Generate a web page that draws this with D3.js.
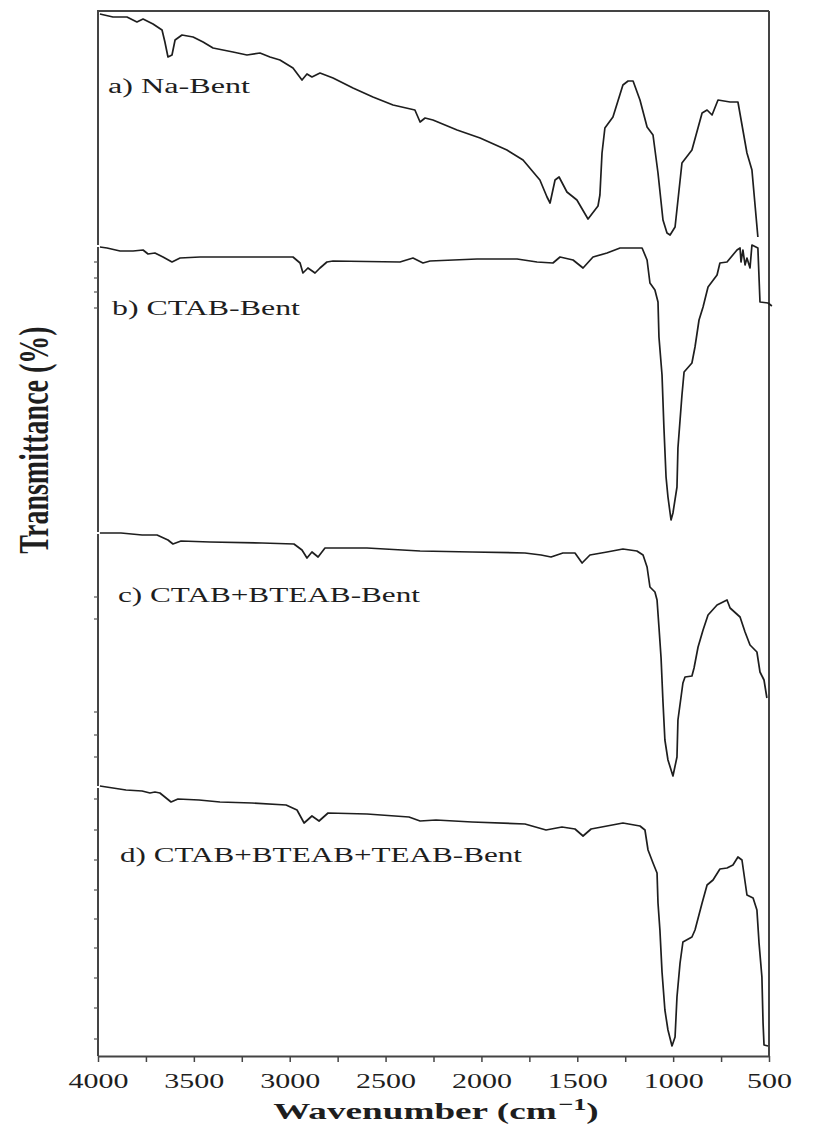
<!DOCTYPE html>
<html>
<head>
<meta charset="utf-8">
<script src="https://cdn.jsdelivr.net/npm/d3@7/dist/d3.min.js"></script>
<style>
  body { margin: 0; background: #fff; }
  svg { display: block; }
</style>
</head>
<body>
<svg id="chart"></svg>
<script>
// FTIR spectra, wavenumber (cm-1) vs transmittance (a.u., curves stacked with offsets)

const naBentWn = [3990, 3922, 3849, 3797, 3765, 3713, 3666, 3651, 3635, 3614, 3598, 3562, 3504, 3452, 3400,
  3296, 3223, 3155, 3103, 3051, 2983, 2936, 2910, 2884, 2842, 2774, 2670, 2566, 2461, 2347, 2320, 2294, 2253,
  2127, 2007, 1867, 1783, 1695, 1658, 1642, 1616, 1595, 1554, 1502, 1444, 1392, 1382, 1371, 1356, 1314, 1262,
  1235, 1209, 1173, 1136, 1105, 1079, 1053, 1032, 1016, 990, 954, 902, 849, 823, 797, 766, 703, 662, 615, 589, 558];
const naBentT = [208.4, 207.8, 207.8, 206.8, 207.4, 206.4, 205.2, 202.8, 199.8, 200.2, 203.2, 204.2, 203.8, 202.8, 201.6,
  200.8, 200.2, 200.6, 199.8, 199.2, 197.6, 195.2, 196.4, 195.8, 196.6, 195.6, 193.6, 191.8, 190.2, 189.2, 186.8, 187.6, 187.2,
  185.2, 183.6, 181.2, 179.2, 175.2, 171.8, 170.6, 175.2, 175.8, 172.8, 171.2, 167.4, 170, 172.2, 180.6, 185.6, 187.8, 194.2,
  195, 195, 191.2, 185.8, 184.2, 176.6, 167.2, 164.6, 164.2, 165.8, 178.6, 181.2, 188.6, 189.2, 188.2, 191.2, 190.8, 190.8, 180.6, 177.2, 163.8];

const ctabWn = [3990, 3953, 3885, 3817, 3765, 3739, 3703, 3661, 3614, 3572, 3468, 2983, 2946, 2931, 2905, 2868,
  2842, 2806, 2774, 2425, 2357, 2305, 2268, 2023, 1814, 1710, 1627, 1590, 1522, 1470, 1418, 1345, 1277, 1162,
  1136, 1121, 1095, 1079, 1074, 1058, 1048, 1037, 1027, 1011, 1001, 980, 975, 954, 943, 902, 886, 865, 844, 818,
  771, 756, 719, 667, 651, 646, 636, 625, 615, 599, 589, 558, 547, 505, 485];
const ctabT = [161.8, 161.6, 161, 161, 161.2, 160.4, 160.6, 159.8, 158.8, 159.6, 159.8, 159.8, 158.6, 156.6, 157.6, 156.6,
  157.6, 158.8, 159, 158.8, 159.6, 158.6, 159, 159.4, 159.4, 158.8, 158.6, 159.8, 159.2, 157.6, 159.8, 160.6, 161.6, 161.6,
  159.2, 154.6, 153.2, 150.8, 143.8, 136.2, 125.6, 115.8, 111.8, 107.2, 108.6, 113.8, 121.6, 132.2, 136.8, 138.6, 141.8, 147.2, 149.8, 153.8,
  156.2, 158.6, 158.8, 161.2, 161.6, 158.8, 161.2, 158.2, 159.6, 157.6, 162.2, 161.6, 150.8, 150.6, 150];

const ctabBteabWn = [3990, 3880, 3770, 3692, 3635, 3609, 3567, 3416, 3145, 2978, 2936, 2910, 2884, 2852, 2816,
  2597, 2320, 2049, 1773, 1689, 1637, 1575, 1512, 1475, 1434, 1345, 1262, 1189, 1157, 1136, 1121, 1095, 1084,
  1074, 1063, 1053, 1043, 1027, 1001, 980, 975, 949, 938, 902, 891, 870, 844, 818, 771, 719, 703, 651, 625, 599,
  563, 547, 526, 511];
const ctabBteabT = [104.6, 104.6, 104.2, 104.2, 103.2, 102.4, 103, 102.8, 102.6, 102.4, 101.2, 99.6, 100.8, 99.8, 101.6,
  101.6, 101, 100.8, 100.6, 100.2, 99.8, 100.6, 100.6, 98.6, 100.2, 100.8, 101.4, 101, 100.2, 97.8, 93.8, 92.8, 91.2,
  85.8, 79.6, 70.8, 63.2, 59.2, 56, 59.8, 67.2, 74.6, 75.8, 76, 77.6, 81.8, 85.2, 88.2, 90.2, 91.2, 89.6, 87.8, 84.8, 82.2,
  80.8, 76.8, 75.2, 71.6];

const ctabBteabTeabWn = [3990, 3854, 3770, 3729, 3703, 3677, 3619, 3583, 3473, 3364, 3197, 3019, 2962, 2925, 2884,
  2847, 2800, 2597, 2378, 2320, 2237, 2049, 1773, 1663, 1580, 1512, 1470, 1428, 1345, 1262, 1173, 1147, 1131,
  1105, 1084, 1079, 1069, 1058, 1043, 1027, 1006, 990, 980, 964, 949, 902, 886, 849, 823, 792, 756, 719, 688,
  662, 641, 615, 583, 563, 552, 537, 531, 526, 505];
const ctabBteabTeabT = [54, 53.2, 53, 52.6, 52.8, 52.6, 50.8, 51.4, 51.2, 50.8, 50.6, 50.2, 49.2, 46.6, 48,
  47, 48.6, 48.4, 47.8, 47, 47.2, 46.8, 46.4, 45.2, 45.8, 45.4, 44, 45.4, 46, 46.6, 46, 45.2, 41.2,
  38.6, 36.6, 30.6, 25.2, 16.8, 9.2, 5.2, 2, 3.8, 11.8, 18.6, 22.8, 23.8, 25.2, 30.6, 34.2, 35.2, 37.4, 37.6, 38.2,
  39.8, 39.2, 32.2, 31.6, 29.2, 22.6, 15.8, 6.6, 2.2, 2];

const sampleNames = ['a) Na-Bent', 'b) CTAB-Bent', 'c) CTAB+BTEAB-Bent', 'd) CTAB+BTEAB+TEAB-Bent'];

const xTickValues = [4000, 3750, 3500, 3250, 3000, 2750, 2500, 2250, 2000, 1750, 1500, 1250, 1000, 750, 500];
const xTickLabels = ['4000', '3500', '3000', '2500', '2000', '1500', '1000', '500'];

// left axis is broken into one piece per stacked curve (value ranges)
const panelRanges = [[209, 162.2], [161.8, 104.8], [104.4, 54], [53.6, 0]];
const yMinorTicks = [158.8, 155.6, 152.8, 149.6, 91.8, 87.4, 68.8, 64.2, 59.8,
  51.4, 45.2, 39.2, 33.2, 27.4, 21.6, 15.6, 9.6, 3.4];

const series = [
  { wn: naBentWn, t: naBentT },
  { wn: ctabWn, t: ctabT },
  { wn: ctabBteabWn, t: ctabBteabT },
  { wn: ctabBteabTeabWn, t: ctabBteabTeabT }
];

// label placement (layout only)
const labelPos = [
  { x: 10, y: 82, len: 142 },
  { x: 14, y: 304, len: 188 },
  { x: 20, y: 591, len: 302 },
  { x: 22, y: 851, len: 402 }
];

const width = 823, height = 1124;
const margin = { top: 11, right: 54, bottom: 68, left: 98 };
const w = width - margin.left - margin.right,
    h = height - margin.top - margin.bottom;

const svg = d3.select('#chart').attr('width', width).attr('height', height);
const g = svg.append('g').attr('transform', 'translate(' + margin.left + ',' + margin.top + ')');

const x = d3.scaleLinear().domain([4000, 500]).range([0, w]);
const y = d3.scaleLinear().domain([0, 209]).range([h, 0]);

const serif = "'Liberation Serif', 'Times New Roman', serif";
const ink = '#1e1e1e';

// frame: top + right
g.append('line').attr('x1', -1).attr('x2', w).attr('y1', 0).attr('y2', 0)
    .attr('stroke', '#444').attr('stroke-width', 2);
g.append('line').attr('x1', w).attr('x2', w).attr('y1', 0).attr('y2', h)
    .attr('stroke', '#444').attr('stroke-width', 2);

// left axis pieces
g.selectAll('.ypiece')
    .data(panelRanges)
    .enter().append('line')
    .attr('class', 'ypiece')
    .attr('x1', 0).attr('x2', 0)
    .attr('y1', d => y(d[0]))
    .attr('y2', d => y(d[1]))
    .attr('stroke', '#444').attr('stroke-width', 2);

g.selectAll('.ytick')
    .data(yMinorTicks)
    .enter().append('line')
    .attr('class', 'ytick')
    .attr('x1', -4).attr('x2', 0)
    .attr('y1', d => y(d)).attr('y2', d => y(d))
    .attr('stroke', '#555').attr('stroke-width', 1.2);

// bottom axis
const xAxis = g.append('g')
    .attr('transform', 'translate(0,' + h + ')')
    .call(d3.axisBottom(x)
        .tickValues(xTickValues)
        .tickSize(6)
        .tickSizeOuter(0)
        .tickPadding(12)
        .tickFormat(d => xTickLabels.includes(String(d)) ? String(d) : ''));

xAxis.select('.domain').attr('stroke', '#444').attr('stroke-width', 2);
xAxis.selectAll('.tick line').attr('stroke', '#444').attr('stroke-width', 1.5);
xAxis.selectAll('.tick text')
    .attr('font-family', serif)
    .attr('font-size', 20)
    .attr('fill', ink)
    .each(function () {
        const s = d3.select(this).text();
        if (s) d3.select(this).attr('textLength', s.length * 15).attr('lengthAdjust', 'spacingAndGlyphs');
    });

// spectra
const line = d3.line()
    .x(d => x(d[0]))
    .y(d => y(d[1]));

g.selectAll('.spectrum')
    .data(series)
    .enter().append('path')
    .attr('class', 'spectrum')
    .attr('fill', 'none')
    .attr('stroke', ink)
    .attr('stroke-width', 1.7)
    .attr('stroke-linejoin', 'round')
    .attr('d', d => line(d3.zip(d.wn, d.t)));

// sample names
g.selectAll('.sample')
    .data(sampleNames)
    .enter().append('text')
    .attr('class', 'sample')
    .attr('x', (d, i) => labelPos[i].x)
    .attr('y', (d, i) => labelPos[i].y)
    .attr('textLength', (d, i) => labelPos[i].len)
    .attr('lengthAdjust', 'spacingAndGlyphs')
    .attr('font-family', serif)
    .attr('font-size', 20)
    .attr('fill', ink)
    .text(d => d);

// axis titles
const xTitle = svg.append('text')
    .attr('transform', 'translate(436,1119) scale(1.55,1)')
    .attr('text-anchor', 'middle')
    .attr('font-family', serif)
    .attr('font-weight', 'bold')
    .attr('font-size', 24)
    .attr('fill', ink);
xTitle.append('tspan').text('Wavenumber (cm');
xTitle.append('tspan').attr('dy', -9).attr('dx', 1).attr('font-size', 17).text('\u22121');
xTitle.append('tspan').attr('dy', 9).text(')');

svg.append('text')
    .attr('transform', 'translate(48,440) rotate(-90) scale(1,1.5)')
    .attr('text-anchor', 'middle')
    .attr('font-family', serif)
    .attr('font-weight', 'bold')
    .attr('font-size', 28)
    .attr('fill', ink)
    .text('Transmittance (%)');
</script>
</body>
</html>
